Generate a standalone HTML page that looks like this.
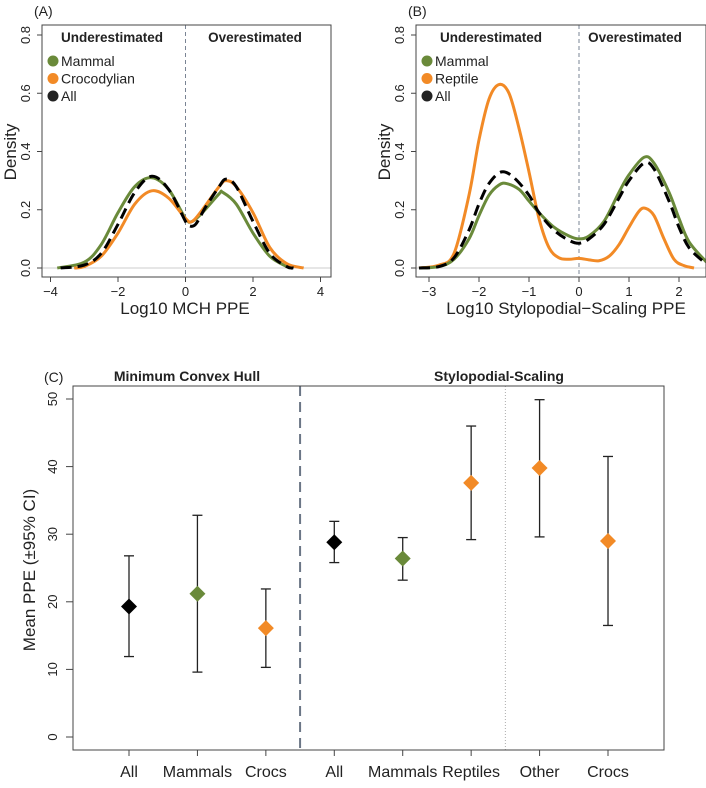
<!DOCTYPE html>
<html><head><meta charset="utf-8"><style>
body{margin:0;background:#fff}
text{font-family:"Liberation Sans",sans-serif;fill:#222}
</style></head><body>
<svg id="svg" width="706" height="783" xmlns="http://www.w3.org/2000/svg"></svg>
<script>
// Panel A data
const aMammalX=[-3.8,-3,-2.5,-2,-1.5,-1,-0.5,0,0.2,0.5,1,1.1,1.5,2,2.5,3,3.1];
const aMammalY=[0,0.02,0.08,0.19,0.28,0.31,0.27,0.17,0.16,0.19,0.255,0.26,0.22,0.12,0.04,0.005,0];
const aCrocX=[-3.3,-3,-2.5,-2,-1.5,-1,-0.5,0,0.2,0.5,1,1.2,1.5,2,2.5,3,3.5];
const aCrocY=[0,0.005,0.04,0.12,0.22,0.265,0.24,0.17,0.16,0.2,0.28,0.3,0.28,0.19,0.07,0.015,0];
const aAllX=[-3.7,-3,-2.5,-2,-1.5,-1,-0.5,0,0.1,0.3,0.6,1,1.2,1.5,2,2.5,3,3.2];
const aAllY=[0,0.01,0.05,0.15,0.26,0.315,0.27,0.16,0.145,0.15,0.21,0.28,0.305,0.28,0.16,0.05,0.005,0];
const aXTicks=[-4,-2,0,2,4];
// Panel B data
const bReptX=[-3.2,-2.8,-2.5,-2.2,-2,-1.8,-1.6,-1.4,-1.2,-1,-0.8,-0.6,-0.4,-0.2,0,0.2,0.4,0.6,0.8,1,1.2,1.33,1.5,1.7,1.9,2.1,2.3];
const bReptY=[0,0.01,0.05,0.25,0.44,0.58,0.63,0.6,0.48,0.33,0.17,0.07,0.035,0.03,0.033,0.028,0.025,0.04,0.08,0.14,0.195,0.205,0.18,0.1,0.03,0.008,0];
const bMamX=[-3.2,-2.8,-2.5,-2.2,-2,-1.8,-1.6,-1.45,-1.2,-1,-0.8,-0.5,-0.2,0,0.2,0.5,0.8,1,1.3,1.5,1.8,2,2.2,2.55];
const bMamY=[0,0.005,0.03,0.1,0.18,0.25,0.285,0.29,0.27,0.23,0.19,0.14,0.11,0.1,0.11,0.16,0.26,0.32,0.38,0.36,0.26,0.17,0.09,0.02];
const bAllX=[-3.2,-2.8,-2.5,-2.2,-2,-1.8,-1.55,-1.3,-1,-0.8,-0.5,-0.2,0,0.2,0.5,0.8,1,1.3,1.5,1.8,2,2.2,2.5];
const bAllY=[0,0.005,0.035,0.13,0.22,0.29,0.33,0.31,0.25,0.19,0.13,0.095,0.085,0.1,0.15,0.24,0.3,0.36,0.34,0.23,0.14,0.07,0.02];
const bXTicks=[-3,-2,-1,0,1,2];
const densTicks=[0,0.2,0.4,0.6,0.8];
// Panel C data
const cCats=["All","Mammals","Crocs","All","Mammals","Reptiles","Other","Crocs"];
const cMean=[19.3,21.2,16.1,28.8,26.4,37.6,39.8,29.0];
const cLow=[11.9,9.6,10.3,25.8,23.2,29.2,29.6,16.5];
const cHigh=[26.8,32.8,21.9,31.9,29.5,46.0,49.9,41.5];
const cColor=["#000","#6a8a3a","#f28a26","#000","#6a8a3a","#f28a26","#f28a26","#f28a26"];
const cYTicks=[0,10,20,30,40,50];

const svg=document.getElementById('svg');
const NS="http://www.w3.org/2000/svg";
function el(tag,attrs,parent,txt){const e=document.createElementNS(NS,tag);for(const k in attrs)e.setAttribute(k,attrs[k]);if(txt!==undefined)e.textContent=txt;(parent||svg).appendChild(e);return e;}
function smooth(pts){let d="M"+pts[0][0]+","+pts[0][1];for(let i=0;i<pts.length-1;i++){const p0=pts[i-1]||pts[i],p1=pts[i],p2=pts[i+1],p3=pts[i+2]||p2;d+=" C"+(p1[0]+(p2[0]-p0[0])/6)+","+(p1[1]+(p2[1]-p0[1])/6)+" "+(p2[0]-(p3[0]-p1[0])/6)+","+(p2[1]-(p3[1]-p1[1])/6)+" "+p2[0]+","+p2[1];}return d;}

function densityPanel(o){
  const g=el('g',{},svg);
  
  
  const X=v=>o.x0+v*o.kx, Y=v=>268-v*291.25;
  const clip='clip'+o.name;
  const cp=el('clipPath',{id:clip},g);el('rect',{x:o.bx1,y:25,width:o.bx2-o.bx1,height:252},cp);
  el('line',{x1:o.bx1,x2:o.bx2,y1:Y(0),y2:Y(0),stroke:'#ccc','stroke-width':1},g);
  el('line',{x1:X(0),x2:X(0),y1:25,y2:277,stroke:'#7a8494','stroke-width':1,'stroke-dasharray':'4,3'},g);
  const series=o.series;
  for(const s of series){
    const p=el('path',{d:smooth(s.x.map((v,i)=>[X(v),Y(s.y[i])])),fill:'none',stroke:s.c,'stroke-width':3,'stroke-dasharray':s.dash||'none','clip-path':'url(#'+clip+')'},g);
    
    
  }
  el('rect',{x:o.bx1,y:25,width:o.bx2-o.bx1,height:252,fill:'none',stroke:'#444','stroke-width':1},g);
  for(const t of densTicks){el('line',{x1:o.bx1,x2:o.bx1-5,y1:Y(t),y2:Y(t),stroke:'#444'},g);
    el('text',{x:o.bx1-12,y:Y(t),'font-size':13,'text-anchor':'middle',transform:'rotate(-90 '+(o.bx1-12)+' '+Y(t)+')'},g,t.toFixed(1));}
  for(const t of o.ticks){el('line',{x1:X(t),x2:X(t),y1:277,y2:282,stroke:'#444'},g);
    el('text',{x:X(t),y:296,'font-size':13,'text-anchor':'middle'},g,t<0?'\u2212'+(-t):String(t));}
  el('text',{x:o.bx1-26,y:152,'font-size':17,'text-anchor':'middle',transform:'rotate(-90 '+(o.bx1-26)+' 152)'},g,'Density');
  el('text',{x:o.xtc,y:314,'font-size':17,'text-anchor':'middle'},g,o.xt);
  el('text',{x:o.bx1-8,y:16,'font-size':14},g,o.lab);
  el('text',{x:o.u,y:42,'font-size':13.5,'font-weight':'bold','text-anchor':'middle'},g,'Underestimated');
  el('text',{x:o.ov,y:42,'font-size':13.5,'font-weight':'bold','text-anchor':'middle'},g,'Overestimated');
  o.leg.forEach((l,i)=>{const y=61+i*17.5;el('circle',{cx:o.bx1+11,cy:y,r:5.5,fill:l[1]},g);
    const t=el('text',{x:o.bx1+19,y:y+5,'font-size':14},g,l[0]);});
}
densityPanel({name:'panel-a',x0:185.5,kx:33.75,bx1:42,bx2:331,ticks:aXTicks,xt:'Log10 MCH PPE',xtc:185,lab:'(A)',u:112,ov:255,
 series:[{x:aMammalX,y:aMammalY,c:'#6a8a3a',n:'mammal'},{x:aCrocX,y:aCrocY,c:'#f28a26',n:'crocodylian'},{x:aAllX,y:aAllY,c:'#000',dash:'11,6',n:'all'}],
 leg:[['Mammal','#6a8a3a'],['Crocodylian','#f28a26'],['All','#222']]});
densityPanel({name:'panel-b',x0:579,kx:50,bx1:416,bx2:706,ticks:bXTicks,xt:'Log10 Stylopodial\u2212Scaling PPE',xtc:566,lab:'(B)',u:491,ov:635,
 series:[{x:bReptX,y:bReptY,c:'#f28a26',n:'reptile'},{x:bMamX,y:bMamY,c:'#6a8a3a',n:'mammal'},{x:bAllX,y:bAllY,c:'#000',dash:'11,6',n:'all'}],
 leg:[['Mammal','#6a8a3a'],['Reptile','#f28a26'],['All','#222']]});

// Panel C
const cg=el('g',{},svg);


const CX=i=>129+i*68.43, CY=v=>737-v*6.76;
el('line',{x1:CX(2.5),x2:CX(2.5),y1:386,y2:750,stroke:'#6b7686','stroke-width':2,'stroke-dasharray':'10,6'},cg);
el('line',{x1:CX(5.5),x2:CX(5.5),y1:386,y2:750,stroke:'#aaa','stroke-width':1,'stroke-dasharray':'1,2'},cg);
el('rect',{x:73,y:386,width:591,height:364,fill:'none',stroke:'#444'},cg);
cYTicks.forEach(t=>{el('line',{x1:73,x2:66,y1:CY(t),y2:CY(t),stroke:'#444'},cg);
  el('text',{x:57,y:CY(t),'font-size':13,'text-anchor':'middle',transform:'rotate(-90 57 '+CY(t)+')'},cg,String(t));});
cCats.forEach((c,i)=>{el('line',{x1:CX(i),x2:CX(i),y1:750,y2:756,stroke:'#444'},cg);
  const t=el('text',{x:CX(i),y:777,'font-size':16,'text-anchor':'middle'},cg,c);
  const x=CX(i);
  el('line',{x1:x,x2:x,y1:CY(cLow[i]),y2:CY(cHigh[i]),stroke:'#222','stroke-width':1.3},cg);
  el('line',{x1:x-5,x2:x+5,y1:CY(cLow[i]),y2:CY(cLow[i]),stroke:'#222','stroke-width':1.3},cg);
  el('line',{x1:x-5,x2:x+5,y1:CY(cHigh[i]),y2:CY(cHigh[i]),stroke:'#222','stroke-width':1.3},cg);
  const y=CY(cMean[i]);
  const d=el('polygon',{points:`${x},${y-8} ${x+8},${y} ${x},${y+8} ${x-8},${y}`,fill:cColor[i]},cg);
  
  
});
el('text',{x:35,y:570,'font-size':17,'text-anchor':'middle',transform:'rotate(-90 35 570)'},cg,'Mean PPE (\u00b195% CI)');
el('text',{x:44,y:382,'font-size':14},cg,'(C)');
el('text',{x:187,y:381,'font-size':14,'font-weight':'bold','text-anchor':'middle'},cg,'Minimum Convex Hull');
el('text',{x:499,y:381,'font-size':14,'font-weight':'bold','text-anchor':'middle'},cg,'Stylopodial-Scaling');
</script>
</body></html>
